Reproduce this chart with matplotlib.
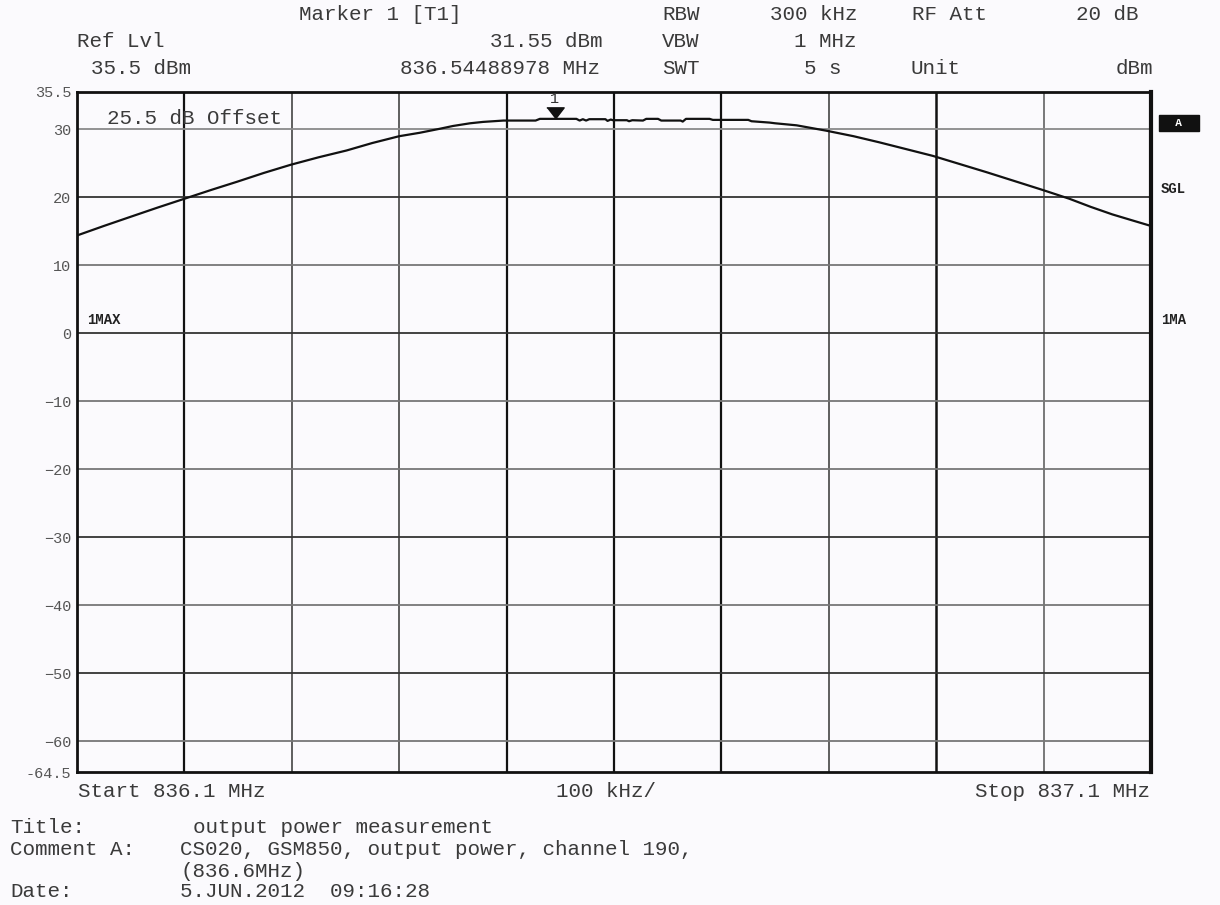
import matplotlib
matplotlib.use("Agg")
import matplotlib.pyplot as plt

# ---------------- data ----------------
freq_mhz = [836.100, 836.125, 836.149, 836.175, 836.200, 836.225, 836.249, 836.274,
            836.299, 836.325, 836.351, 836.375, 836.400, 836.419, 836.438, 836.450,
            836.466, 836.478, 836.497, 836.527, 836.531, 836.565, 836.568, 836.571,
            836.574, 836.577, 836.580, 836.592, 836.594, 836.597, 836.599, 836.612,
            836.614, 836.617, 836.627, 836.630, 836.641, 836.644, 836.662, 836.664,
            836.667, 836.689, 836.692, 836.725, 836.728, 836.745, 836.750, 836.770,
            836.798, 836.823, 836.847, 836.872, 836.897, 836.922, 836.947, 836.973,
            836.999, 837.024, 837.044, 837.064, 837.083, 837.100]
level_dbm = [14.4, 15.8, 17.1, 18.5, 19.8, 21.1, 22.3, 23.6,
             24.8, 25.9, 26.9, 28.0, 29.0, 29.5, 30.1, 30.5,
             30.9, 31.1, 31.3, 31.3, 31.55, 31.55, 31.3, 31.5,
             31.3, 31.5, 31.5, 31.5, 31.25, 31.45, 31.35, 31.35,
             31.2, 31.35, 31.3, 31.55, 31.55, 31.3, 31.3, 31.15,
             31.55, 31.55, 31.4, 31.4, 31.2, 31.0, 30.9, 30.6,
             29.8, 29.0, 28.1, 27.1, 26.1, 24.9, 23.7, 22.4,
             21.1, 19.8, 18.6, 17.5, 16.6, 15.8]

marker_freq = 836.54488978
marker_level = 31.55

f_start, f_stop = 836.1, 837.1
ref_lvl, bottom_lvl = 35.5, -64.5
vgrid = [836.2, 836.3, 836.4, 836.5, 836.6, 836.7, 836.8, 836.9, 837.0]
hgrid = [30, 20, 10, 0, -10, -20, -30, -40, -50, -60]
ytick_vals = [35.5, 30, 20, 10, 0, -10, -20, -30, -40, -50, -60, -64.5]
ytick_labels = ["35.5", "30", "20", "10", "0", "\u221210", "\u221220", "\u221230",
                "\u221240", "\u221250", "\u221260", "-64.5"]

W, H = 1220, 905
BG = "#fbfafd"
TXT = "#3a3a3a"
MONO = ["Liberation Mono", "DejaVu Sans Mono"]

fig = plt.figure(figsize=(W / 100, H / 100), dpi=100, facecolor=BG)
ax = fig.add_axes([77 / W, 1 - 772 / H, 1074 / W, 680 / H], facecolor=BG)


def ptext(x, y, s, ha="left", va="baseline", size=15, **kw):
    # place text by pixel position on the screenshot
    kw.setdefault("color", TXT)
    kw.setdefault("family", MONO)
    fig.text(x / W, 1 - y / H, s, ha=ha, va=va, fontsize=size, **kw)


# grid
vstyle = [("#111", 1.6), ("#444", 1.2), ("#444", 1.2), ("#111", 1.6), ("#111", 1.6),
          ("#111", 1.6), ("#444", 1.2), ("#111", 1.8), ("#555", 1.1)]
for f, (c, lw) in zip(vgrid, vstyle):
    ax.axvline(f, color=c, lw=lw, zorder=1)
hstyle = {30: "#8a8a8a", 20: "#333", 10: "#777", 0: "#333", -10: "#777",
          -20: "#777", -30: "#333", -40: "#777", -50: "#333", -60: "#777"}
for v in hgrid:
    ax.axhline(v, color=hstyle[v], lw=1.3, zorder=1)

# trace
ax.plot(freq_mhz, level_dbm, color="#111", lw=1.6, zorder=3)

# marker 1
ax.plot([marker_freq], [marker_level + 0.8], linestyle="none",
        marker=[(-1, 0.65), (1, 0.65), (0, -0.65)], ms=12.5, color="#111", zorder=4)
ax.text(marker_freq, 34.5, "1", ha="center", va="center", fontsize=11,
        family=MONO, color="#333")

ax.set_xlim(f_start, f_stop)
ax.set_ylim(bottom_lvl, ref_lvl)
ax.set_xticks([])
ax.set_yticks(ytick_vals)
ax.set_yticklabels(ytick_labels, family=MONO, fontsize=11, color="#555")
ax.tick_params(axis="y", length=0, pad=4)
for side in ["left", "top", "bottom"]:
    ax.spines[side].set_linewidth(2)
    ax.spines[side].set_color("#111")
ax.spines["right"].set_linewidth(3)
ax.spines["right"].set_color("#111")

ax.text(0.028, 0.975, "25.5 dB Offset", transform=ax.transAxes, ha="left", va="top",
        fontsize=15, family=MONO, color=TXT)

# header block
ptext(299, 20, "Marker 1 [T1]")
ptext(77, 47, "Ref Lvl")
ptext(91, 74, "35.5 dBm")
ptext(602, 47, "31.55 dBm", ha="right")
ptext(600, 74, "836.54488978 MHz", ha="right")
ptext(662, 20, "RBW")
ptext(662, 47, "VBW")
ptext(662, 74, "SWT")
ptext(857, 20, "300 kHz", ha="right")
ptext(857, 47, "1 MHz", ha="right")
ptext(841, 74, "5 s", ha="right")
ptext(912, 20, "RF Att")
ptext(1138, 20, "20 dB", ha="right")
ptext(910, 74, "Unit")
ptext(1153, 74, "dBm", ha="right")

# side annotations
ptext(1179, 123, "  A  ", ha="center", va="center", size=8, color="white", weight="bold",
      bbox=dict(boxstyle="square,pad=0.3", fc="#111", ec="#111"))
ptext(1161, 189, "SGL", va="center", size=10, weight="bold", color="#222")
ptext(1161, 320, "1MA", va="center", size=10, weight="bold", color="#222")
ptext(87, 320, "1MAX", va="center", size=10, weight="bold", color="#222")

# footer
ptext(78, 797, "Start 836.1 MHz")
ptext(556, 797, "100 kHz/")
ptext(1150, 797, "Stop 837.1 MHz", ha="right")
ptext(10, 833, "Title:")
ptext(193, 833, "output power measurement")
ptext(10, 855, "Comment A:")
ptext(180, 855, "CS020, GSM850, output power, channel 190,")
ptext(180, 877, "(836.6MHz)")
ptext(10, 897, "Date:")
ptext(180, 897, "5.JUN.2012  09:16:28")

fig.savefig("out.png", dpi=100, facecolor=BG)
